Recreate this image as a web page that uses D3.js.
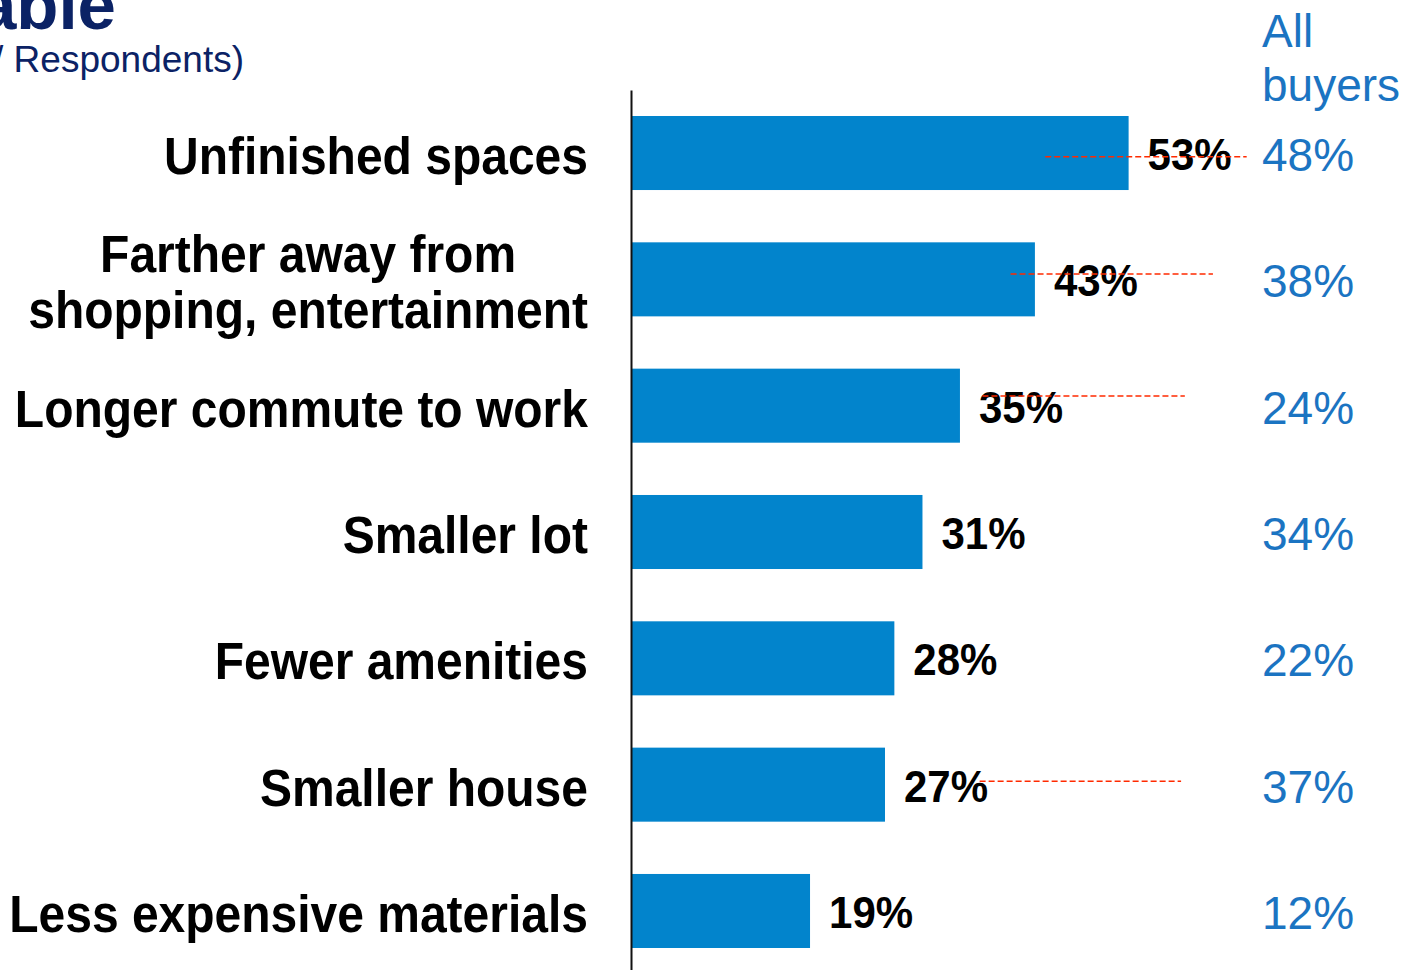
<!DOCTYPE html>
<html>
<head>
<meta charset="utf-8">
<script src="https://cdn.jsdelivr.net/npm/d3@7/dist/d3.min.js"></script>
<style>
  html, body { margin: 0; padding: 0; background: #ffffff; }
  svg { display: block; }
  text { font-family: "Liberation Sans", Arial, Helvetica, sans-serif; }
</style>
</head>
<body>
<svg id="chart" width="1421" height="970"></svg>
<script>
// Categories (top to bottom); "\n" splits a label over two lines
const categories = [
  "Unfinished spaces",
  "Farther away from\nshopping, entertainment",
  "Longer commute to work",
  "Smaller lot",
  "Fewer amenities",
  "Smaller house",
  "Less expensive materials"
];

// Share of this group willing to accept each compromise (%)
const groupValues = [53, 43, 35, 31, 28, 27, 19];

// Same question, all buyers (%)
const allBuyerValues = [48, 38, 24, 34, 22, 37, 12];

// Hand-drawn dashed strike marks: row index and span in percent units
const strikeRows = [0, 1, 2, 5];
const strikeFrom = [44.1, 40.4, 37.4, 37.1];
const strikeTo   = [65.6, 62.0, 59.0, 58.6];

const titleText = "Trade-offs Buyers Found Acceptable";
const subtitleText = "(Share of Buyers/ Respondents)";
const allBuyersHeader = ["All", "buyers"];

const svg = d3.select("#chart");

const NAVY = "#0b2265";
const BAR = "#0284cc";
const SIDE = "#1b74c2";
const STRIKE = "#ff2a00";

// Scales
const x = d3.scaleLinear().domain([0, 100]).range([632, 632 + 937]);
const y = d3.scaleBand()
  .domain(d3.range(categories.length))
  .range([92, 972])
  .paddingInner(0.414)
  .paddingOuter(0.19);
const mid = i => y(i) + y.bandwidth() / 2;
const pct = d => d + "%";

// Title (runs off the top-left of the page)
svg.append("text")
  .attr("x", 116).attr("y", 29)
  .attr("text-anchor", "end")
  .attr("font-size", 69).attr("font-weight", 700)
  .attr("fill", NAVY)
  .text(titleText);

svg.append("text")
  .attr("x", 244).attr("y", 72)
  .attr("text-anchor", "end")
  .attr("font-size", 37)
  .attr("fill", NAVY)
  .text(subtitleText);

// Bars
svg.append("g").selectAll("rect")
  .data(groupValues)
  .join("rect")
  .attr("x", x(0))
  .attr("y", (d, i) => y(i))
  .attr("width", d => x(d) - x(0))
  .attr("height", y.bandwidth())
  .attr("fill", BAR);

// Vertical axis line
const axis = svg.append("g")
  .attr("transform", `translate(${x(0) - 1},-2)`)
  .call(d3.axisLeft(y).tickSize(0).tickFormat(""));
axis.select(".domain").attr("stroke", "#111").attr("stroke-width", 2);

// Category labels, right aligned against the axis, multi-line blocks centred
const LABEL_RIGHT = 588;
const LINE_H = 56;
categories.forEach((label, i) => {
  const lines = label.split("\n");
  const n = lines.length;
  const g = svg.append("g");
  const texts = lines.map((line, k) => {
    const base = mid(i) + 21 + (k - (n - 1) / 2) * LINE_H;
    return g.append("text")
      .attr("transform", `translate(0,${base}) scale(1,1.07)`)
      .attr("font-size", 48).attr("font-weight", 700)
      .attr("fill", "#000")
      .text(line);
  });
  const widths = texts.map(t => t.node().getComputedTextLength());
  const maxW = d3.max(widths);
  texts.forEach(t => {
    t.attr("text-anchor", "middle").attr("x", LABEL_RIGHT - maxW / 2);
  });
});

// Value labels next to bars
svg.append("g").selectAll("text")
  .data(groupValues)
  .join("text")
  .attr("transform", (d, i) => `translate(${x(d) + 19},${mid(i) + 17}) scale(1,1.05)`)
  .attr("font-size", 42).attr("font-weight", 700)
  .attr("fill", "#000")
  .text(pct);

// Dashed strike marks
svg.append("g").selectAll("line")
  .data(strikeRows)
  .join("line")
  .attr("x1", (r, k) => x(strikeFrom[k]))
  .attr("x2", (r, k) => x(strikeTo[k]))
  .attr("y1", (r, k) => mid(r) + [3.7, -5.3, -9.7, -3.3][k])
  .attr("y2", (r, k) => mid(r) + [3.7, -5.3, -9.7, -3.3][k])
  .attr("stroke", STRIKE)
  .attr("stroke-width", 1.5)
  .attr("stroke-dasharray", "6,3");

// All buyers column
const SIDE_X = 1262;
svg.append("g").selectAll("text")
  .data(allBuyersHeader)
  .join("text")
  .attr("x", SIDE_X)
  .attr("y", (d, k) => 47 + k * 54)
  .attr("font-size", 46)
  .attr("fill", SIDE)
  .text(d => d);

svg.append("g").selectAll("text")
  .data(allBuyerValues)
  .join("text")
  .attr("x", SIDE_X)
  .attr("y", (d, i) => mid(i) + 18)
  .attr("font-size", 46)
  .attr("fill", SIDE)
  .text(pct);
</script>
</body>
</html>
